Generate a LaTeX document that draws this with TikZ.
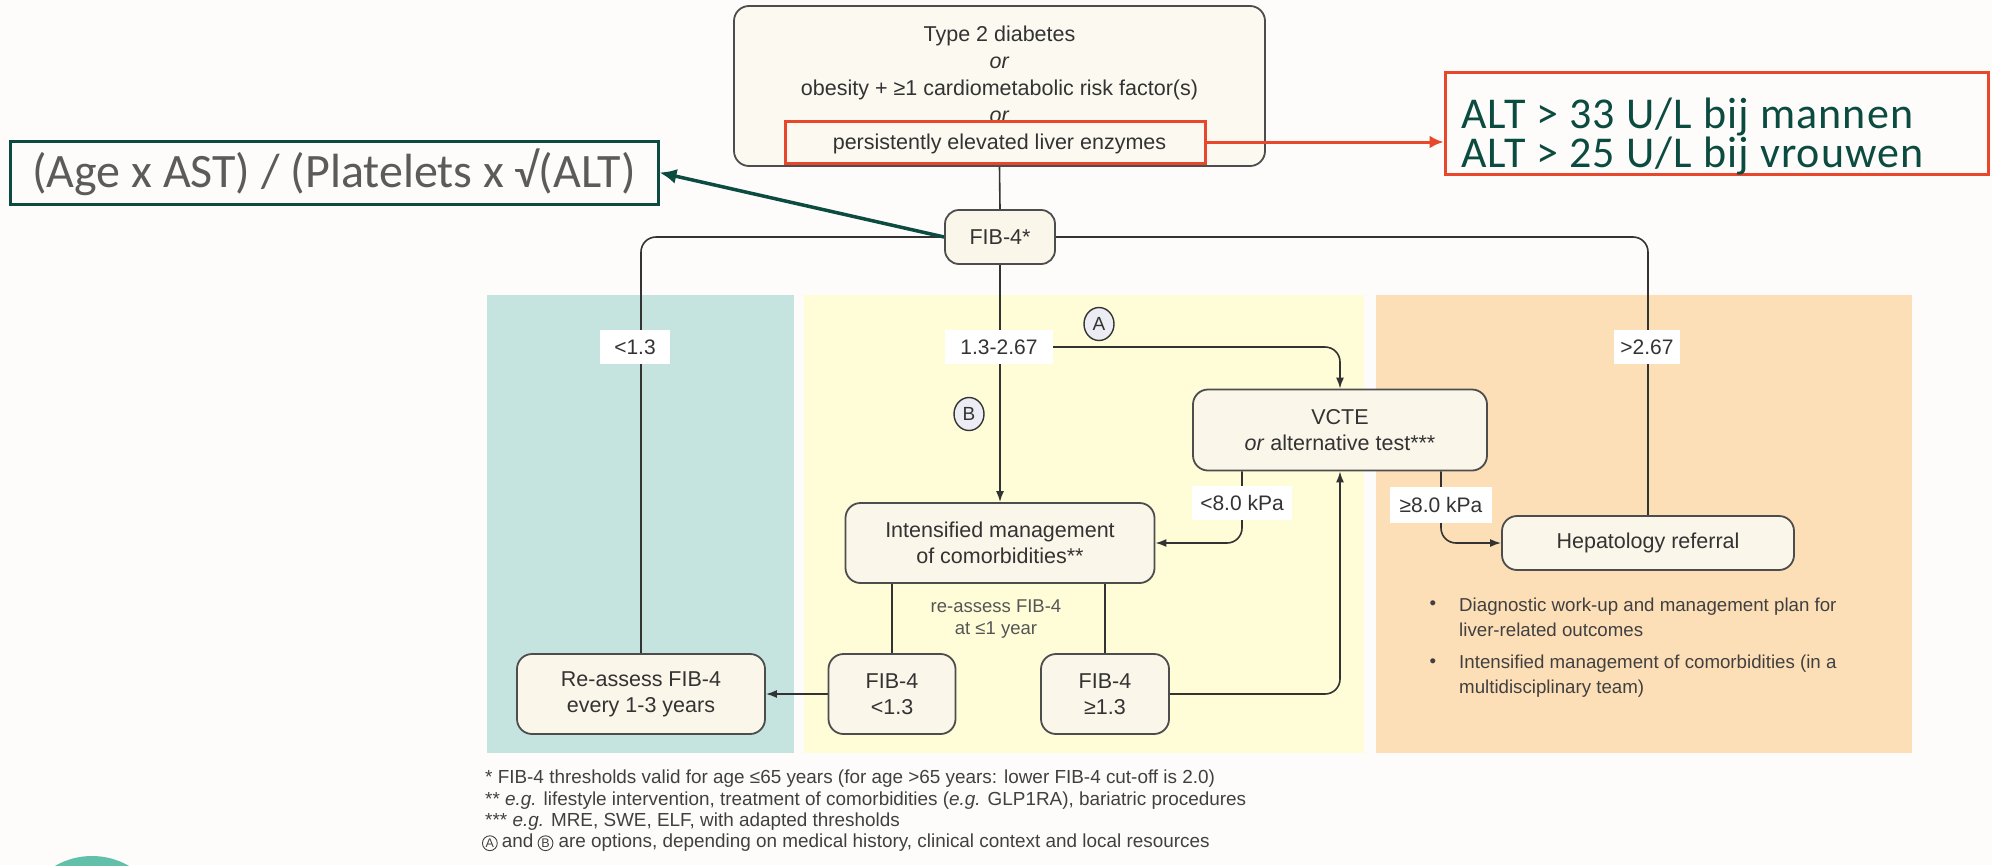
\documentclass[tikz,border=0pt]{standalone}
\usepackage{fontspec}
\setmainfont{Liberation Sans}
\newfontfamily\callfont{Carlito}
\usetikzlibrary{arrows.meta,shapes.geometric}

\pgfdeclarelayer{panels}
\pgfdeclarelayer{wires}
\pgfsetlayers{panels,wires,main}

\definecolor{pagebg}{HTML}{FDFCFA}
\definecolor{tealpanel}{HTML}{C5E4DF}
\definecolor{yellowpanel}{HTML}{FFFDD8}
\definecolor{orangepanel}{HTML}{FDDFB7}
\definecolor{boxfill}{HTML}{FBF6EA}
\definecolor{topfill}{HTML}{FCF9F1}
\definecolor{boxline}{HTML}{4D4D4D}
\definecolor{ink}{HTML}{333333}
\definecolor{softink}{HTML}{555555}
\definecolor{darkgreen}{HTML}{0C4B3F}
\definecolor{alertred}{HTML}{E8472C}
\definecolor{formulagray}{HTML}{5B5B5B}
\definecolor{noteink}{HTML}{404040}
\definecolor{optfill}{HTML}{ECECF4}
\definecolor{tealdot}{HTML}{62C0AA}

\tikzset{
  flowbox/.style={draw=boxline, line width=1.8pt, fill=boxfill, rounded corners=15pt,
    align=center, text=ink, inner sep=0pt, font=\fontsize{21.5}{26}\selectfont},
  thr/.style={fill=white, inner sep=0pt, text=ink, font=\fontsize{21}{25}\selectfont},
  wire/.style={draw=ink, line width=1.6pt},
  arr/.style={wire, -{Latex[length=11pt,width=8pt]}},
  optmark/.style={ellipse, draw=ink, line width=1.4pt, fill=optfill, minimum width=30pt,
    minimum height=33pt, inner sep=0pt, text=ink, font=\fontsize{19}{19}\selectfont},
  note/.style={align=left, inner sep=0pt, text=noteink},
  footline/.style={note, anchor=base west, font=\fontsize{18.9}{21.5}\selectfont},
  footmark/.style={circle, draw=noteink, line width=0.9pt, inner sep=1pt, text=noteink,
    font=\fontsize{12.5}{12.5}\selectfont},
}

\begin{document}
\begin{tikzpicture}[x=1pt, y=-1pt]
\useasboundingbox (0,0) rectangle (1992,865);

\begin{pgfonlayer}{panels}
  \fill[pagebg] (0,0) rectangle (1992,865);
  \fill[tealpanel] (487,295) rectangle (794,753);
  \fill[yellowpanel] (804,295) rectangle (1364,753);
  \fill[orangepanel] (1376,295) rectangle (1912,753);
  \begin{scope}
    \clip (0,0) rectangle (1992,865);
    \fill[tealdot] (92,930) circle (74);
  \end{scope}
\end{pgfonlayer}

% entry criteria
\node[flowbox, fill=topfill, minimum width=531pt, minimum height=160pt] (risk) at (999.5,86) {};
\node[align=center, inner sep=0pt, text=ink, font=\fontsize{21.5}{27}\selectfont] (risktext) at (999.5,90)
  {Type 2 diabetes\\\textit{or}\\obesity + ≥1 cardiometabolic risk factor(s)\\\textit{or}\\persistently elevated liver enzymes};
\node[draw=alertred, line width=3pt, minimum width=420pt, minimum height=42pt, inner sep=0pt] (enz) at (995,142) {};

% ALT callout
\node[draw=alertred, line width=3pt, minimum width=543pt, minimum height=102pt, inner sep=0pt] (alt) at (1716.5,123) {};
\node[anchor=west, align=left, inner sep=0pt, text=darkgreen,
      font=\callfont\fontsize{44}{36}\selectfont\addfontfeature{LetterSpace=2.5}] (alttext) at (1461,136.5)
  {ALT > 33 U/L bij mannen\\ALT > 25 U/L bij vrouwen};

% FIB-4 formula callout
\node[draw=darkgreen, line width=3pt, minimum width=648pt, minimum height=63pt, inner sep=0pt,
      text=formulagray, font=\callfont\fontsize{48}{48}\selectfont] (formula) at (334,172.5)
  {(Age x AST) / (Platelets x √(ALT)};

% flow nodes
\node[flowbox, minimum width=110pt, minimum height=54pt, rounded corners=14pt] (fib) at (1000,237) {FIB-4*};
\node[flowbox, minimum width=294pt, minimum height=81pt] (vcte) at (1340,430) {VCTE\\\textit{or} alternative test***};
\node[flowbox, minimum width=309pt, minimum height=80pt] (intens) at (1000,543) {Intensified management\\of comorbidities**};
\node[flowbox, minimum width=292pt, minimum height=54pt] (hep) at (1648,543) {Hepatology referral};
\node[flowbox, minimum width=248pt, minimum height=80pt] (re) at (641,694) {Re-assess FIB-4\\every 1-3 years};
\node[flowbox, minimum width=127pt, minimum height=80pt] (fiblo) at (892,694) {FIB-4\\<1.3};
\node[flowbox, minimum width=128pt, minimum height=80pt] (fibhi) at (1105,694) {FIB-4\\≥1.3};

% threshold labels
\node[thr, minimum width=70pt, minimum height=34pt] (lo) at (635,347) {<1.3};
\node[thr, minimum width=108pt, minimum height=34pt] (mid) at (999,347) {1.3-2.67};
\node[thr, minimum width=66pt, minimum height=34pt] (hi) at (1647,347) {>2.67};
\node[thr, minimum width=100pt, minimum height=34pt] (kpa1) at (1242,503) {<8.0 kPa};
\node[thr, minimum width=102pt, minimum height=36pt] (kpa2) at (1441,505) {≥8.0 kPa};

% options
\node[optmark] (optA) at (1099,324) {A};
\node[optmark] (optB) at (969,414) {B};

% notes
\node[note, text=softink, align=center, font=\fontsize{18.5}{22}\selectfont] (reinfo) at (996,619) {re-assess FIB-4\\at ≤1 year};
\node[note, font=\fontsize{18.7}{25.5}\selectfont] (dot1) at (1433,605) {•};
\node[note, anchor=west, font=\fontsize{18.7}{25.5}\selectfont] (item1) at (1459,617.5)
  {Diagnostic work-up and management plan for\\liver-related outcomes};
\node[note, font=\fontsize{18.7}{25.5}\selectfont] (dot2) at (1433,663) {•};
\node[note, anchor=west, font=\fontsize{18.7}{25.5}\selectfont] (item2) at (1459,676)
  {Intensified management of comorbidities (in a\\multidisciplinary team)};

% footnotes
\node[footline] (foot1) at (485,783.5) {* FIB-4 thresholds valid for age ≤65 years (for age >65 years: lower FIB-4 cut-off is 2.0)};
\node[footline] (foot2) at (485,805) {** \textit{e.g.} lifestyle intervention, treatment of comorbidities (\textit{e.g.} GLP1RA), bariatric procedures};
\node[footline] (foot3) at (485,826.5) {*** \textit{e.g.} MRE, SWE, ELF, with adapted thresholds};
\node[footmark, anchor=base west] (markA) at (482,847.5) {A};
\node[footline, xshift=4pt] (footand) at (markA.base east) {and};
\node[footmark, anchor=base west, xshift=4pt] (markB) at (footand.base east) {B};
\node[footline, xshift=5pt] (foot4) at (markB.base east) {are options, depending on medical history, clinical context and local resources};

% connectors
\begin{pgfonlayer}{wires}
  \draw[wire] (risk.south) -- (fib.north);
  \draw[wire, rounded corners=15pt] (fib.west) -| (re.north);
  \draw[wire, rounded corners=15pt] (fib.east) -| (hep.north);
  \draw[arr] (fib.south) -- (intens.north);
  \draw[arr, rounded corners=15pt] (mid.center) -| (vcte.north);
  \draw[arr, rounded corners=15pt] (kpa1.center |- vcte.south) |- (intens.east);
  \draw[arr, rounded corners=15pt] (kpa2.center |- vcte.south) |- (hep.west);
  \draw[wire] (fiblo.north |- intens.south) -- (fiblo.north);
  \draw[wire] (fibhi.north |- intens.south) -- (fibhi.north);
  \draw[arr] (fiblo.west) -- (re.east);
  \draw[arr, rounded corners=15pt] (fibhi.east) -| (vcte.south);
  \draw[draw=darkgreen, line width=3.5pt, -{Latex[length=17pt,width=15pt]}] (fib.west) -- (formula.east);
\end{pgfonlayer}
\draw[draw=alertred, line width=3pt, -{Latex[length=14pt,width=13pt]}] (enz.east) -- (enz.east -| alt.west);

\end{tikzpicture}
\end{document}
